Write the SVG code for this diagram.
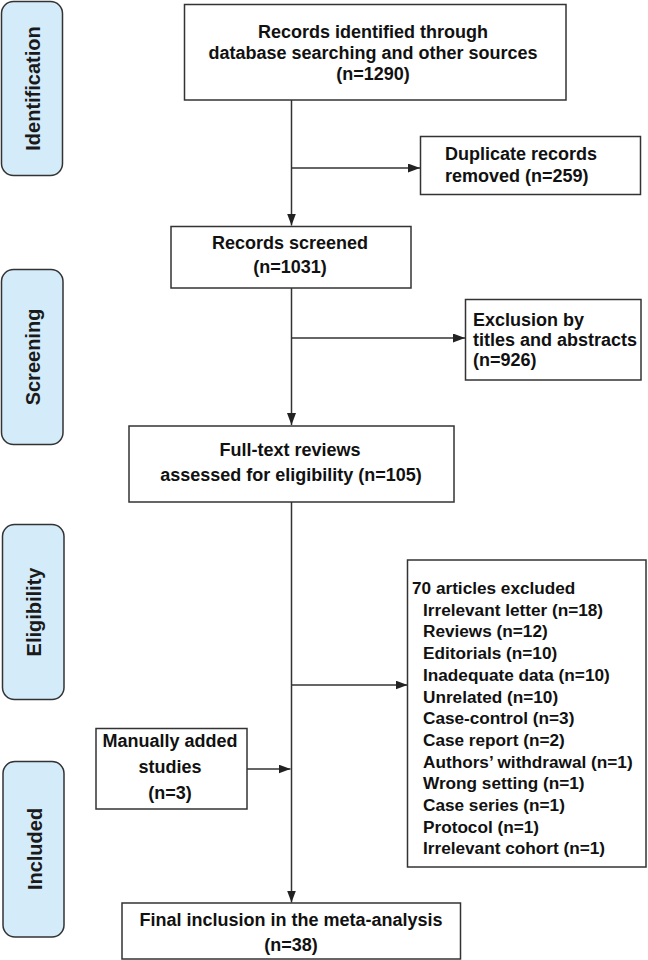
<svg xmlns="http://www.w3.org/2000/svg" width="648" height="960" viewBox="0 0 648 960">
<style>
  .bg { fill: #ffffff; }
  .box { fill: #ffffff; stroke: #333333; stroke-width: 1.5; }
  .side { fill: #d4ebf9; stroke: #333333; stroke-width: 1.5; }
  .t { font-family: "Liberation Sans", Arial, sans-serif; font-weight: bold; font-size: 18px; fill: #111111; }
  .ts { font-family: "Liberation Sans", Arial, sans-serif; font-weight: bold; font-size: 20px; fill: #1a1a1a; }
  .tl { font-family: "Liberation Sans", Arial, sans-serif; font-weight: bold; font-size: 17.2px; fill: #111111; }
  .c { text-anchor: middle; }
  .ln { fill: none; stroke: #333333; stroke-width: 1.5; }
</style>
<defs>
  <marker id="arr" markerUnits="userSpaceOnUse" markerWidth="13" markerHeight="10" refX="12" refY="4.5" orient="auto">
    <path d="M0,0 L12,4.5 L0,9 z" fill="#222222"/>
  </marker>
</defs>
<rect class="bg" x="0" y="0" width="648" height="960"/>

<g id="phase-identification">
  <rect class="side" x="1.5" y="1.5" width="61" height="174" rx="12"/>
  <text class="ts c" transform="translate(39.5,88.5) rotate(-90)">Identification</text>
</g>
<g id="phase-screening">
  <rect class="side" x="1.5" y="269.5" width="61.5" height="175" rx="12"/>
  <text class="ts c" transform="translate(40,357) rotate(-90)">Screening</text>
</g>
<g id="phase-eligibility">
  <rect class="side" x="2.5" y="524.5" width="61.5" height="175" rx="12"/>
  <text class="ts c" transform="translate(41,612) rotate(-90)">Eligibility</text>
</g>
<g id="phase-included">
  <rect class="side" x="3" y="761.5" width="61" height="175.5" rx="12"/>
  <text class="ts c" transform="translate(41.5,849) rotate(-90)">Included</text>
</g>

<g id="connectors">
  <line class="ln" x1="291.5" y1="100" x2="291.5" y2="225.5" marker-end="url(#arr)"/>
  <line class="ln" x1="291.5" y1="168" x2="420" y2="168" marker-end="url(#arr)"/>
  <line class="ln" x1="291.5" y1="288" x2="291.5" y2="425" marker-end="url(#arr)"/>
  <line class="ln" x1="291.5" y1="338" x2="465" y2="338" marker-end="url(#arr)"/>
  <line class="ln" x1="291.5" y1="502" x2="291.5" y2="902.5" marker-end="url(#arr)"/>
  <line class="ln" x1="291.5" y1="685" x2="407.5" y2="685" marker-end="url(#arr)"/>
  <line class="ln" x1="247" y1="769" x2="290.5" y2="769" marker-end="url(#arr)"/>
</g>

<g id="records-identified">
  <rect class="box" x="184.5" y="4.5" width="381.5" height="95.5"/>
  <text class="t c" x="373" y="38">Records identified through</text>
  <text class="t c" x="373" y="59">database searching and other sources</text>
  <text class="t c" x="373" y="80">(n=1290)</text>
</g>

<g id="duplicates-removed">
  <rect class="box" x="420.5" y="136.5" width="220" height="58"/>
  <text class="t" x="445" y="159.5">Duplicate records</text>
  <text class="t" x="445" y="182">removed (n=259)</text>
</g>

<g id="records-screened">
  <rect class="box" x="171" y="226.5" width="240" height="61.5"/>
  <text class="t c" x="290" y="249">Records screened</text>
  <text class="t c" x="290" y="273">(n=1031)</text>
</g>

<g id="excluded-titles">
  <rect class="box" x="465.5" y="299.5" width="175.5" height="80.5"/>
  <text class="t" x="473" y="326">Exclusion by</text>
  <text class="t" x="473" y="346">titles and abstracts</text>
  <text class="t" x="473" y="365.5">(n=926)</text>
</g>

<g id="full-text">
  <rect class="box" x="129" y="426" width="325" height="76"/>
  <text class="t c" x="290" y="455.5">Full-text reviews</text>
  <text class="t c" x="291" y="480.5">assessed for eligibility (n=105)</text>
</g>

<g id="articles-excluded">
  <rect class="box" x="407.5" y="560" width="238.5" height="307"/>
  <text class="tl" x="412" y="594">70 articles excluded</text>
  <text class="tl" x="423" y="615.7">Irrelevant letter (n=18)</text>
  <text class="tl" x="423" y="637.4">Reviews (n=12)</text>
  <text class="tl" x="423" y="659.1">Editorials (n=10)</text>
  <text class="tl" x="423" y="680.8">Inadequate data (n=10)</text>
  <text class="tl" x="423" y="702.5">Unrelated (n=10)</text>
  <text class="tl" x="423" y="724.2">Case-control (n=3)</text>
  <text class="tl" x="423" y="745.9">Case report (n=2)</text>
  <text class="tl" x="423" y="767.6">Authors’ withdrawal (n=1)</text>
  <text class="tl" x="423" y="789.3">Wrong setting (n=1)</text>
  <text class="tl" x="423" y="811">Case series (n=1)</text>
  <text class="tl" x="423" y="832.7">Protocol (n=1)</text>
  <text class="tl" x="423" y="854.4">Irrelevant cohort (n=1)</text>
</g>

<g id="manually-added">
  <rect class="box" x="96" y="728.5" width="151" height="80.5"/>
  <text class="t c" x="170" y="747">Manually added</text>
  <text class="t c" x="170" y="773">studies</text>
  <text class="t c" x="170" y="799">(n=3)</text>
</g>

<g id="final-inclusion">
  <rect class="box" x="122" y="903" width="338.5" height="56"/>
  <text class="t c" x="291" y="926">Final inclusion in the meta-analysis</text>
  <text class="t c" x="291" y="951">(n=38)</text>
</g>
</svg>
